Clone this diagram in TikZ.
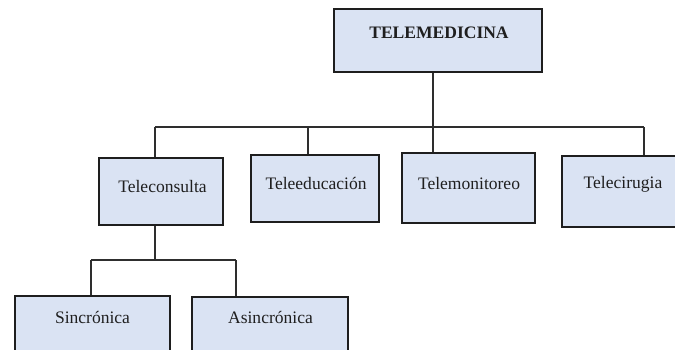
\documentclass[tikz,border=0pt]{standalone}
\usepackage{fontspec}
\setmainfont{Liberation Serif}
\definecolor{boxfill}{HTML}{DAE3F3}
\definecolor{lineclr}{HTML}{2E2E2E}
\definecolor{edgeclr}{HTML}{1E1E1E}
\begin{document}
\begin{tikzpicture}[x=1bp,y=-1bp,
  box/.style={draw=edgeclr, line width=2.6bp, fill=boxfill, inner sep=0pt},
  txt/.style={inner sep=0pt, font=\fontsize{17.6}{20}\selectfont, text=black!88},
  conn/.style={draw=lineclr, line width=2.4bp}]
\useasboundingbox (0,0) rectangle (675,349);
\clip (0,0) rectangle (675,349);
% boxes
\node[box, minimum width=208bp, minimum height=63bp] (root) at (438,40.5) {};
\node[box, minimum width=124bp, minimum height=67bp] (tc) at (161,191.5) {};
\node[box, minimum width=128bp, minimum height=67bp] (te) at (315,188.5) {};
\node[box, minimum width=133bp, minimum height=70bp] (tm) at (468.5,188) {};
\node[box, minimum width=128bp, minimum height=71bp] (tci) at (626,191.5) {};
\node[box, minimum width=155bp, minimum height=70bp] (s) at (92.5,331) {};
\node[box, minimum width=156bp, minimum height=70bp] (a) at (270,332) {};
% texts
\node[txt, font=\fontsize{17.6}{20}\selectfont\bfseries] (troot) at (439,33) {TELEMEDICINA};
\node[txt] (ttc) at (162.5,186) {Teleconsulta};
\node[txt] (tte) at (316,183) {Teleeducación};
\node[txt] (ttm) at (469,183) {Telemonitoreo};
\node[txt] (ttci) at (623,184) {Telecirugia};
\node[txt] (ts) at (92.5,317) {Sincrónica};
\node[txt] (ta) at (270.5,317) {Asincrónica};
% connectors
\coordinate (busL) at (155,127);
\coordinate (busR) at (644,127);
\coordinate (busM) at (433,127);
\coordinate (busE) at (308,127);
\coordinate (subM) at (155,260);
\coordinate (subL) at (91,260);
\coordinate (subR) at (236,260);
\draw[conn] (busL) -- (busR);
\draw[conn] (root.south -| busM) -- (busM |- tm.north);
\draw[conn] (busL) -- (busL |- tc.north);
\draw[conn] (busE) -- (busE |- te.north);
\draw[conn] (busR) -- (busR |- tci.north);
\draw[conn] (tc.south -| subM) -- (subM);
\draw[conn] (subL) -- (subR);
\draw[conn] (subL) -- (subL |- s.north);
\draw[conn] (subR) -- (subR |- a.north);
\end{tikzpicture}
\end{document}
